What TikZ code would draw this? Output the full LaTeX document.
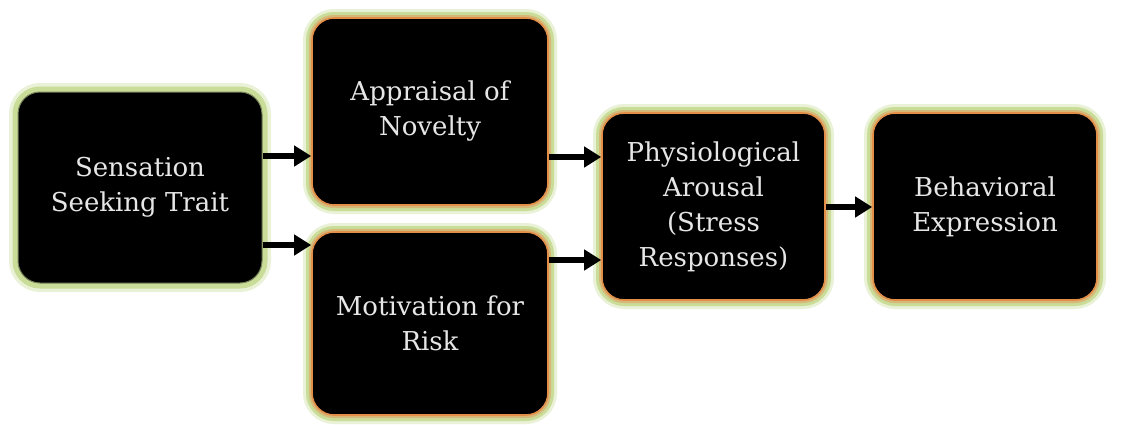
\documentclass[tikz,border=0pt]{standalone}
\usepackage{fontspec}
\setmainfont{DejaVu Serif}
\usetikzlibrary{arrows.meta}
\definecolor{glowa}{HTML}{E9F1D6}
\definecolor{glowb}{HTML}{C9DC98}
\definecolor{tanc}{HTML}{D6B878}
\definecolor{orgc}{HTML}{E38E48}
\definecolor{txtc}{HTML}{E6E6E6}
\tikzset{
  basebox/.style={rounded corners=22pt, fill=black, text=txtc, align=center,
    font=\fontsize{26}{35}\selectfont, inner sep=0pt},
  greenbox/.style={basebox,
    preaction={draw=glowa, line width=18pt},
    preaction={draw=glowb, line width=11pt},
    draw=glowb!60!black, line width=1pt},
  orangebox/.style={basebox,
    preaction={draw=glowa, line width=18pt},
    preaction={draw=glowb, line width=12pt},
    preaction={draw=tanc, line width=6pt},
    draw=orgc, line width=1.6pt},
  arr/.style={line width=5.5pt, -{Triangle[length=17pt,width=20pt]}}
}
\begin{document}
\begin{tikzpicture}[x=1pt,y=-1pt]
\useasboundingbox (0,0) rectangle (1133,424);
\node[greenbox, minimum width=244pt, minimum height=191pt] (sens) at (140,187.5) {Sensation\\Seeking Trait};
\node[orangebox, minimum width=236pt, minimum height=187pt] (appr) at (430,111.5) {Appraisal of\\Novelty};
\node[orangebox, minimum width=236pt, minimum height=183pt] (moti) at (430,323.5) {Motivation for\\Risk};
\node[orangebox, minimum width=223pt, minimum height=187pt] (phys) at (713.5,206.5) {Physiological\\Arousal\\(Stress\\Responses)};
\node[orangebox, minimum width=224pt, minimum height=187pt] (behv) at (985,206.5) {Behavioral\\Expression};
\coordinate (ya) at (0,156);
\coordinate (yb) at (0,245);
\coordinate (yc) at (0,157);
\coordinate (yd) at (0,260);
\coordinate (ye) at (0,207);
\draw[arr] (sens.east |- ya) -- (appr.west |- ya);
\draw[arr] (sens.east |- yb) -- (moti.west |- yb);
\draw[arr] (appr.east |- yc) -- (phys.west |- yc);
\draw[arr] (moti.east |- yd) -- (phys.west |- yd);
\draw[arr] (phys.east |- ye) -- (behv.west |- ye);
\end{tikzpicture}
\end{document}
